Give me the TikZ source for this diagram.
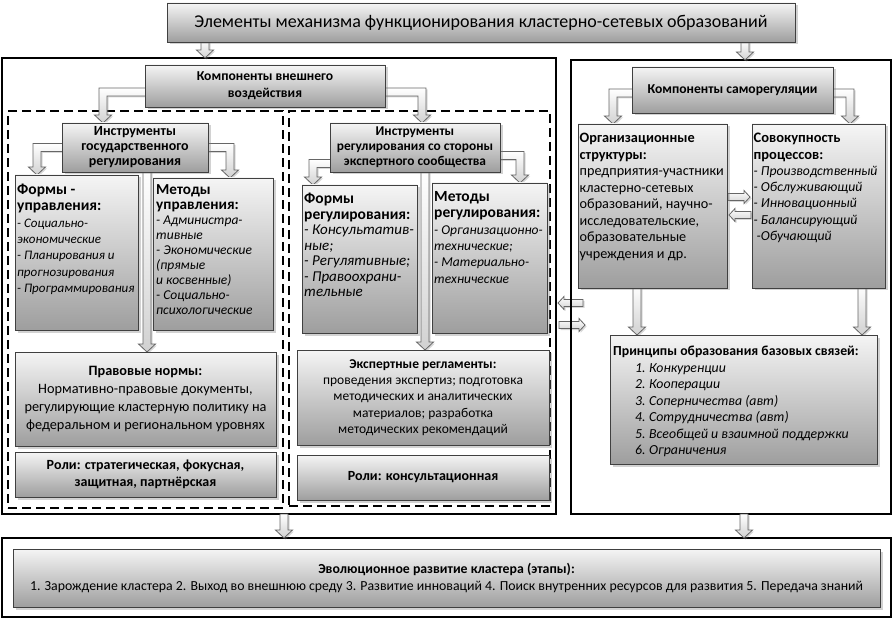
\documentclass[tikz,border=0pt]{standalone}
\usepackage{fontspec}
\setmainfont{Carlito}
\usetikzlibrary{shadows,calc}
\pgfdeclarelayer{low}
\pgfdeclarelayer{bg}
\pgfdeclarelayer{arr}
\pgfsetlayers{low,bg,arr,main}
\tikzset{
 box/.style={draw=black!75, line width=0.7pt, top color=black!4, bottom color=black!38,
   drop shadow={opacity=0.35, shadow xshift=2.5pt, shadow yshift=-2.5pt},
   anchor=north west, inner sep=0pt, outer sep=0pt, align=center},
 blk/.style={draw=black!60, line width=0.8pt, top color=white, bottom color=black!18,
   drop shadow={opacity=0.3, shadow xshift=1.5pt, shadow yshift=-1.5pt}},
 outerbox/.style={draw=black, line width=2pt, anchor=north west, inner sep=0pt, outer sep=0pt},
 dashbox/.style={draw=black, line width=2.3pt, dash pattern=on 9pt off 5pt, anchor=north west, inner sep=0pt, outer sep=0pt},
 txt/.style={inner sep=0pt, anchor=north west, align=left},
}
\newcommand\fs[2]{\fontsize{#1}{#2}\selectfont}
\newcommand\hd[2]{{\bfseries\fontsize{#1}{10}\selectfont #2}}
% vertical arrow: x and start y from #1, tip y from #2
\newcommand\varrow[2]{\path[blk] let \p1=(#1), \p2=(#2) in
 (\x1-4pt,\y1) -- (\x1-4pt,\y2+8pt) -- (\x1-8.5pt,\y2+8pt) -- (\x1,\y2) -- (\x1+8.5pt,\y2+8pt) -- (\x1+4pt,\y2+8pt) -- (\x1+4pt,\y1) -- cycle;}
% L arrows: leave box sideways, then down to tip #2
\newcommand\Lleft[2]{\path[blk] let \p1=(#1), \p2=(#2) in
 (\x1,\y1+4pt) -- (\x2-4pt,\y1+4pt) -- (\x2-4pt,\y2+8pt) -- (\x2-8.5pt,\y2+8pt) -- (\x2,\y2) -- (\x2+8.5pt,\y2+8pt) -- (\x2+4pt,\y2+8pt) -- (\x2+4pt,\y1-4pt) -- (\x1,\y1-4pt) -- cycle;}
\newcommand\Lright[2]{\path[blk] let \p1=(#1), \p2=(#2) in
 (\x1,\y1+4pt) -- (\x2+4pt,\y1+4pt) -- (\x2+4pt,\y2+8pt) -- (\x2+8.5pt,\y2+8pt) -- (\x2,\y2) -- (\x2-8.5pt,\y2+8pt) -- (\x2-4pt,\y2+8pt) -- (\x2-4pt,\y1-4pt) -- (\x1,\y1-4pt) -- cycle;}
% small horizontal arrows: y and start x from #1, tip x from #2
\newcommand\harrowR[2]{\path[blk] let \p1=(#1), \p2=(#2) in
 (\x1,\y1+3.5pt) -- (\x2-6pt,\y1+3.5pt) -- (\x2-6pt,\y1+6.5pt) -- (\x2,\y1) -- (\x2-6pt,\y1-6.5pt) -- (\x2-6pt,\y1-3.5pt) -- (\x1,\y1-3.5pt) -- cycle;}
\newcommand\harrowL[2]{\path[blk] let \p1=(#1), \p2=(#2) in
 (\x1,\y1+3.5pt) -- (\x2+6pt,\y1+3.5pt) -- (\x2+6pt,\y1+6.5pt) -- (\x2,\y1) -- (\x2+6pt,\y1-6.5pt) -- (\x2+6pt,\y1-3.5pt) -- (\x1,\y1-3.5pt) -- cycle;}
\begin{document}
\begin{tikzpicture}[x=1pt,y=-1pt]
\begin{pgfonlayer}{low}
\fill[white] (0,0) rectangle (894,620);
\end{pgfonlayer}
\useasboundingbox (0,0) rectangle (894,620);
% frames
\begin{pgfonlayer}{bg}
\node[outerbox, minimum width=554pt, minimum height=456pt] (leftOut) at (2,58) {};
\node[outerbox, minimum width=320pt, minimum height=454pt] (rightOut) at (571,60) {};
\node[outerbox, minimum width=889pt, minimum height=79pt] (botOut) at (2,538) {};
\node[dashbox, minimum width=275pt, minimum height=397pt] (dashL) at (8,111) {};
\node[dashbox, minimum width=261pt, minimum height=395pt] (dashR) at (289,111) {};
\end{pgfonlayer}
% boxes
\node[box, minimum width=628pt, minimum height=39pt, font=\fs{18}{20}] (title) at (167,3) {Элементы механизма функционирования кластерно-сетевых образований};
\node[box, minimum width=240pt, minimum height=42pt, font=\bfseries\fs{13.6}{17}] (compExt) at (145,65) {Компоненты внешнего\\воздействия};
\node[box, minimum width=146pt, minimum height=49pt, font=\bfseries\fs{14}{15}] (instrGos) at (62,123) {Инструменты\\государственного\\регулирования};
\node[box, minimum width=123pt, minimum height=155pt] (formsGos) at (15,175) {};
\node[box, minimum width=120pt, minimum height=152pt] (methGos) at (153,178) {};
\node[box, minimum width=261pt, minimum height=94pt, font=\fs{14.3}{17.7}] (pravo) at (15,352) {\textbf{Правовые нормы:}\\Нормативно-правовые документы,\\регулирующие кластерную политику на\\федеральном и региональном уровнях};
\node[box, minimum width=261pt, minimum height=45pt, font=\bfseries\fs{14}{17}] (roliGos) at (15,452) {Роли: стратегическая, фокусная,\\защитная, партнёрская};
\node[box, minimum width=170pt, minimum height=49pt, font=\bfseries\fs{13.4}{15}] (instrExp) at (330,123) {Инструменты\\регулирования со стороны\\экспертного сообщества};
\node[box, minimum width=115pt, minimum height=148pt] (formsExp) at (302,185) {};
\node[box, minimum width=115pt, minimum height=150pt] (methExp) at (432,183) {};
\node[box, minimum width=252pt, minimum height=95pt, font=\fs{13.5}{16.3}] (expreg) at (297,350) {\textbf{Экспертные регламенты:}\\проведения экспертиз; подготовка\\методических и аналитических\\материалов; разработка\\методических рекомендаций};
\node[box, minimum width=252pt, minimum height=45pt, font=\bfseries\fs{14}{17}] (roliExp) at (297,455) {Роли: консультационная};
\node[box, minimum width=201pt, minimum height=46pt, font=\bfseries\fs{13.6}{16}] (compSelf) at (632,67) {Компоненты саморегуляции};
\node[box, minimum width=149pt, minimum height=164pt] (org) at (578,124) {};
\node[box, minimum width=133pt, minimum height=164pt] (proc) at (752,124) {};
\node[box, minimum width=267pt, minimum height=129pt] (princ) at (610,335) {};
\node[box, minimum width=867pt, minimum height=58pt, font=\fs{13.8}{17.5}] (botIn) at (13,549) {\textbf{Эволюционное развитие кластера (этапы):}\\1. Зарождение кластера 2. Выход во внешнюю среду 3. Развитие инноваций 4. Поиск внутренних ресурсов для развития 5. Передача знаний};
% list texts
\node[txt, font=\fs{13}{16.3}] (formsGosT) at ($(formsGos.north west)+(2,9)$) {\hd{15.5}{Формы -}\\\hd{15.5}{управления:}\\\textit{- Социально-}\\\textit{экономические}\\\textit{- Планирования и}\\\textit{прогнозирования}\\\textit{- Программирования}};
\node[txt, font=\fs{13.5}{15}] (methGosT) at ($(methGos.north west)+(3,6)$) {\hd{15.2}{Методы}\\\hd{15.2}{управления:}\\\textit{- Администра-}\\\textit{тивные}\\\textit{- Экономические}\\\textit{(прямые}\\\textit{и косвенные)}\\\textit{- Социально-}\\\textit{психологические}};
\node[txt, font=\fs{15}{15.5}] (formsExpT) at ($(formsExp.north west)+(2,8)$) {\hd{15.5}{Формы}\\\hd{15.5}{регулирования:}\\\textit{- Консультатив-}\\\textit{ные;}\\\textit{- Регулятивные;}\\\textit{- Правоохрани-}\\\textit{тельные}};
\node[txt, font=\fs{13.5}{16.4}] (methExpT) at ($(methExp.north west)+(2,8)$) {\hd{15.5}{Методы}\\\hd{15.5}{регулирования:}\\\textit{- Организационно-}\\\textit{технические;}\\\textit{- Материально-}\\\textit{технические}};
\node[txt, font=\fs{14.2}{16.5}] (orgT) at ($(org.north west)+(1.5,9)$) {\hd{14.3}{Организационные}\\\hd{14.3}{структуры:}\\предприятия-участники\\кластерно-сетевых\\образований, научно-\\исследовательские,\\образовательные\\учреждения и др.};
\node[txt, font=\fs{13.7}{16.3}] (procT) at ($(proc.north west)+(1.5,9)$) {\hd{14.5}{Совокупность}\\\hd{14.5}{процессов:}\\\textit{- Производственный}\\\textit{- Обслуживающий}\\\textit{- Инновационный}\\\textit{- Балансирующий}\\\textit{\hspace*{3pt}-Обучающий}};
\node[txt, font=\fs{13.8}{16.5}] (princT) at ($(princ.north west)+(3,11)$) {\textbf{Принципы образования базовых связей:}\\
\itshape\hspace*{22pt}\makebox[14pt][l]{1.}Конкуренции\\
\itshape\hspace*{22pt}\makebox[14pt][l]{2.}Кооперации\\
\itshape\hspace*{22pt}\makebox[14pt][l]{3.}Соперничества (авт)\\
\itshape\hspace*{22pt}\makebox[14pt][l]{4.}Сотрудничества (авт)\\
\itshape\hspace*{22pt}\makebox[14pt][l]{5.}Всеобщей и взаимной поддержки\\
\itshape\hspace*{22pt}\makebox[14pt][l]{6.}Ограничения};
% arrows
\begin{pgfonlayer}{arr}
\varrow{$(title.south west)+(38,-2)$}{leftOut.north}
\varrow{$(title.south west)+(578,-2)$}{rightOut.north}
\Lleft{$(compExt.west)+(3,6)$}{$(instrGos.north west)+(41,0)$}
\Lright{$(compExt.east)+(-3,6)$}{$(instrExp.north west)+(92,0)$}
\Lleft{$(instrGos.west)+(3,0)$}{$(formsGos.north west)+(22,0)$}
\Lright{$(instrGos.east)+(-3,0)$}{$(methGos.north west)+(77,0)$}
\varrow{$(instrGos.south west)+(85,-3)$}{pravo.north}
\Lleft{$(instrExp.west)+(3,16)$}{$(formsExp.north west)+(11,0)$}
\Lright{$(instrExp.east)+(-3,8)$}{$(methExp.north west)+(88,0)$}
\varrow{$(instrExp.south west)+(95,-3)$}{expreg.north}
\Lleft{$(compSelf.west)+(3,3)$}{$(org.north west)+(35,0)$}
\Lright{$(compSelf.east)+(-3,3)$}{$(proc.north west)+(98,0)$}
\harrowR{$(org.east)+(1,-9)$}{$(proc.west)+(-2,0)$}
\harrowL{$(proc.west)+(-1,9)$}{$(org.east)+(2,0)$}
\varrow{$(org.south west)+(59,-3)$}{princ.north}
\varrow{$(proc.south west)+(110,-3)$}{princ.north}
\varrow{$(leftOut.south west)+(282,0)$}{botOut.north}
\varrow{$(rightOut.south west)+(173,0)$}{botOut.north}
\end{pgfonlayer}
\begin{pgfonlayer}{low}
\harrowL{$(rightOut.west)+(12,16)$}{$(leftOut.east)+(2,0)$}
\harrowR{$(leftOut.east)+(3,39)$}{$(rightOut.west)+(14,0)$}
\end{pgfonlayer}
\end{tikzpicture}
\end{document}
